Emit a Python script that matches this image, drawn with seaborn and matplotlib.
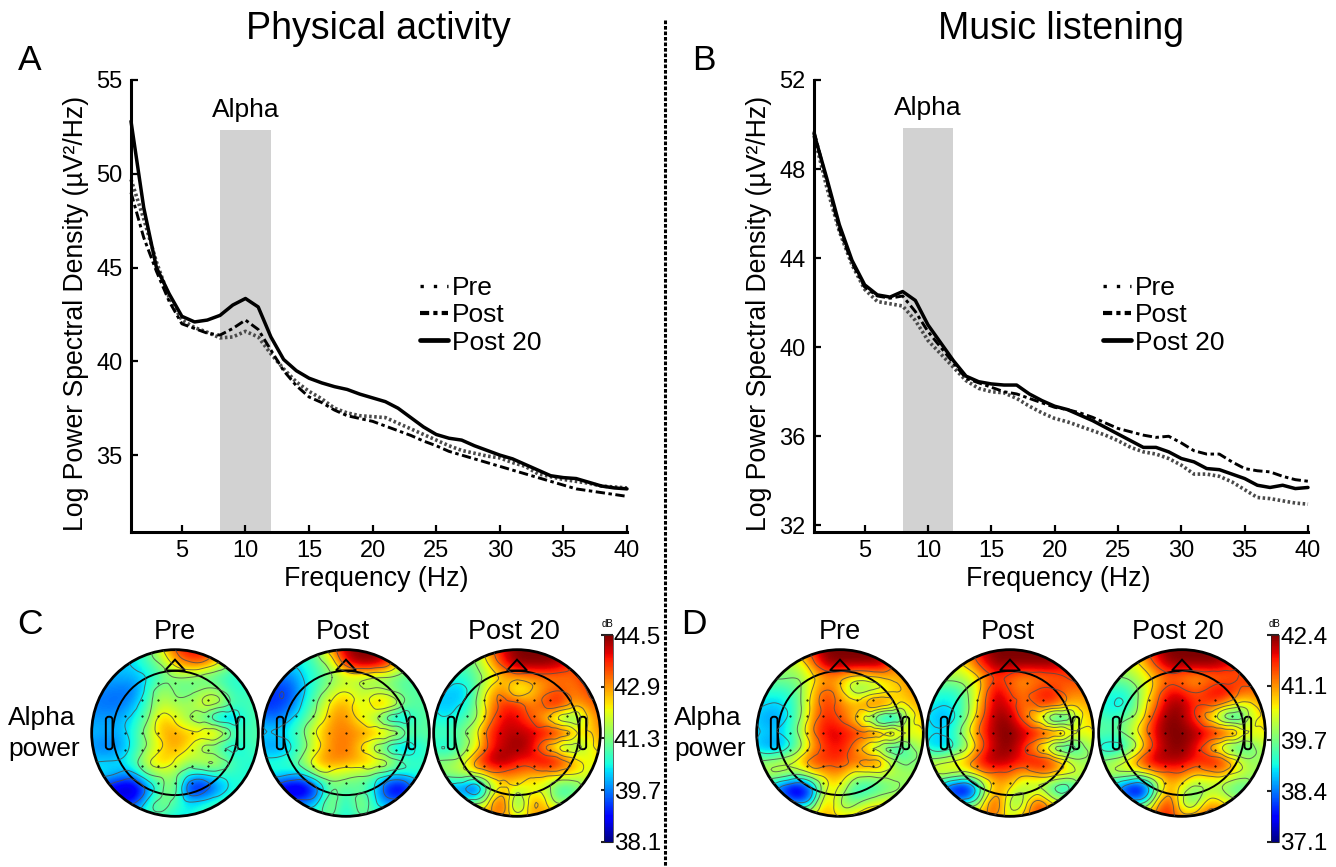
"""Spectra and alpha topographies before and after physical activity / music listening."""

import matplotlib.pyplot as plt
import matplotlib.tri as mtri
from matplotlib.lines import Line2D
from matplotlib.patches import Circle, Polygon, FancyBboxPatch
import numpy as np
import pandas as pd
import seaborn as sns

FREQS = list(range(1, 41))

A_PRE = [49.7, 47.6, 45.3, 43.4, 42.2, 41.8, 41.55, 41.25, 41.3, 41.6, 41.3, 40.4, 39.6, 38.9, 38.4, 38.0, 37.5, 37.25,
         37.1, 37.05, 37.0, 36.7, 36.4, 36.1, 35.8, 35.5, 35.25, 35.1, 34.95, 34.85, 34.6, 34.4, 34.0, 33.85, 33.7,
         33.6, 33.5, 33.35, 33.3, 33.25]
A_POST = [49.0, 46.6, 44.8, 43.2, 42.0, 41.75, 41.5, 41.4, 41.75, 42.2, 41.7, 40.6, 39.5, 38.7, 38.1, 37.8, 37.4, 37.1,
          36.95, 36.8, 36.55, 36.3, 36.05, 35.75, 35.5, 35.2, 35.0, 34.8, 34.6, 34.4, 34.2, 34.0, 33.8, 33.6, 33.4,
          33.2, 33.1, 33.0, 32.9, 32.8]
A_POST20 = [52.8, 48.2, 45.0, 43.6, 42.4, 42.1, 42.2, 42.45, 43.0, 43.35, 42.9, 41.3, 40.1, 39.5, 39.1, 38.85, 38.65,
            38.5, 38.25, 38.05, 37.85, 37.5, 37.0, 36.5, 36.1, 35.9, 35.8, 35.5, 35.25, 35.0, 34.8, 34.5, 34.2, 33.9,
            33.8, 33.75, 33.55, 33.35, 33.25, 33.2]

B_PRE = [49.5, 47.2, 45.2, 43.7, 42.6, 42.05, 41.95, 41.85, 41.2, 40.3, 39.7, 39.1, 38.5, 38.15, 38.0, 37.95, 37.7,
         37.35, 37.05, 36.8, 36.65, 36.45, 36.25, 36.05, 35.8, 35.5, 35.3, 35.2, 35.0, 34.7, 34.3, 34.3, 34.2, 33.95,
         33.6, 33.25, 33.2, 33.1, 33.0, 32.95]
B_POST = [49.7, 47.5, 45.3, 43.8, 42.7, 42.3, 42.2, 42.3, 41.6, 40.7, 40.0, 39.3, 38.6, 38.4, 38.2, 38.0, 37.9, 37.7,
          37.5, 37.3, 37.2, 37.05, 36.85, 36.6, 36.35, 36.2, 36.05, 35.95, 36.0, 35.7, 35.35, 35.2, 35.2, 34.85,
          34.55, 34.45, 34.4, 34.2, 34.05, 33.98]
B_POST20 = [49.6, 47.6, 45.5, 43.9, 42.8, 42.35, 42.25, 42.5, 42.1, 41.0, 40.2, 39.4, 38.7, 38.45, 38.35, 38.3, 38.3,
            37.9, 37.6, 37.35, 37.2, 36.95, 36.7, 36.4, 36.1, 35.8, 35.5, 35.5, 35.3, 35.0, 34.85, 34.55, 34.5, 34.3,
            34.1, 33.8, 33.7, 33.8, 33.65, 33.7]

A_YTICKS = [35, 40, 45, 50, 55]
B_YTICKS = [32, 36, 40, 44, 48, 52]
XTICKS = [5, 10, 15, 20, 25, 30, 35, 40]
CONDITIONS = ["Pre", "Post", "Post 20"]

C_TICKS = [38.1, 39.7, 41.3, 42.9, 44.5]
D_TICKS = [37.1, 38.4, 39.7, 41.1, 42.4]

# scalp values in dB on a 13 x 13 grid, top row is the front of the head
C_PRE = [
    [40.3, 40.3, 40.3, 40.5, 41.0, 42.2, 43.4, 44.0, 44.0, 43.2, 41.8, 41.0, 41.0],
    [40.2, 40.2, 40.2, 40.3, 40.8, 41.4, 42.6, 43.2, 43.2, 42.4, 41.3, 40.8, 40.8],
    [40.0, 40.0, 40.0, 40.0, 40.3, 40.9, 41.3, 41.3, 41.0, 40.7, 40.6, 40.6, 40.8],
    [39.7, 39.7, 39.6, 39.6, 40.6, 41.7, 41.2, 41.0, 41.6, 41.7, 40.8, 40.7, 40.9],
    [39.7, 39.6, 39.6, 40.0, 40.9, 41.9, 41.7, 41.6, 42.2, 42.0, 41.0, 40.8, 41.0],
    [39.9, 39.9, 40.0, 40.4, 41.2, 42.7, 42.2, 41.4, 41.0, 39.9, 39.8, 40.6, 41.0],
    [40.1, 40.0, 40.0, 40.6, 41.6, 42.7, 42.9, 42.6, 42.7, 42.9, 41.3, 40.8, 41.0],
    [39.8, 39.6, 39.8, 40.5, 41.4, 42.3, 42.9, 42.4, 41.3, 40.8, 40.2, 40.6, 41.0],
    [40.2, 40.2, 40.3, 40.9, 42.1, 42.7, 42.3, 41.6, 42.1, 42.0, 41.0, 40.6, 40.7],
    [40.5, 40.4, 40.0, 39.9, 41.1, 41.6, 41.5, 40.4, 40.2, 40.6, 40.7, 40.6, 40.6],
    [39.0, 38.8, 38.4, 38.2, 39.5, 41.0, 41.5, 38.8, 38.7, 39.6, 40.4, 40.6, 40.7],
    [39.5, 39.4, 39.0, 39.0, 40.5, 41.5, 41.0, 40.3, 40.5, 40.8, 40.9, 40.9, 40.9],
    [40.3, 40.3, 40.3, 40.5, 40.8, 40.9, 40.4, 40.4, 40.8, 41.0, 41.0, 41.0, 41.0],
]
C_POST = [
    [40.5, 40.5, 40.5, 40.8, 41.5, 43.0, 44.3, 44.5, 44.5, 44.0, 42.4, 41.3, 41.0],
    [40.3, 40.3, 40.3, 40.5, 41.0, 41.9, 43.8, 44.4, 44.4, 43.8, 42.0, 41.2, 41.0],
    [39.6, 39.6, 39.7, 40.3, 40.8, 41.3, 41.7, 41.7, 41.4, 41.3, 41.0, 41.0, 41.0],
    [39.2, 39.2, 39.3, 40.2, 41.0, 41.8, 42.3, 41.7, 41.8, 41.6, 41.0, 41.0, 41.0],
    [39.2, 39.2, 39.5, 40.5, 41.4, 42.6, 42.8, 42.0, 42.7, 42.9, 41.4, 41.0, 41.0],
    [39.8, 39.6, 40.2, 40.9, 41.8, 42.9, 43.0, 42.2, 41.5, 40.2, 39.8, 40.8, 41.1],
    [40.3, 40.3, 40.6, 41.3, 42.5, 43.0, 43.1, 43.0, 42.9, 42.8, 41.8, 41.0, 41.1],
    [39.9, 39.7, 40.2, 41.1, 42.2, 43.0, 43.2, 42.5, 41.4, 40.3, 39.7, 40.3, 40.9],
    [40.6, 40.6, 40.9, 41.7, 42.9, 43.1, 43.0, 42.8, 42.7, 42.1, 41.2, 40.7, 40.8],
    [40.6, 40.6, 40.2, 40.3, 41.6, 41.9, 41.6, 41.5, 41.2, 40.5, 40.3, 40.7, 40.6],
    [38.8, 38.6, 38.3, 38.2, 39.4, 41.2, 40.9, 41.0, 40.3, 38.7, 38.4, 39.5, 40.4],
    [39.5, 39.5, 39.5, 39.6, 40.3, 41.7, 40.4, 41.7, 40.6, 39.7, 39.8, 40.3, 40.5],
    [40.3, 40.3, 40.4, 40.6, 41.0, 41.1, 40.4, 41.0, 41.0, 40.8, 40.7, 40.6, 40.6],
]
C_POST20 = [
    [41.0, 41.0, 41.0, 41.6, 43.0, 44.0, 44.5, 44.5, 44.5, 44.5, 44.2, 43.5, 43.0],
    [41.0, 41.0, 41.0, 41.3, 42.5, 43.7, 44.5, 44.5, 44.5, 44.3, 43.5, 43.7, 43.5],
    [40.6, 40.6, 40.6, 41.0, 41.8, 42.6, 42.8, 42.9, 43.0, 43.0, 43.2, 43.7, 43.8],
    [40.2, 40.2, 40.0, 41.0, 42.6, 43.1, 41.8, 42.4, 43.0, 43.5, 43.0, 43.4, 43.6],
    [40.2, 40.1, 40.3, 41.2, 42.8, 43.7, 43.8, 43.0, 43.6, 43.9, 42.8, 43.0, 43.4],
    [40.6, 40.4, 40.8, 41.3, 43.0, 44.0, 43.9, 43.4, 42.5, 41.3, 40.7, 42.2, 43.2],
    [41.0, 40.9, 41.2, 42.0, 43.7, 44.1, 44.2, 44.1, 44.1, 44.0, 43.0, 42.3, 43.0],
    [40.6, 40.3, 41.0, 41.9, 43.6, 44.1, 44.5, 44.1, 42.6, 41.5, 41.0, 41.8, 42.6],
    [41.4, 41.4, 41.8, 43.4, 44.3, 44.5, 43.8, 43.8, 44.3, 44.0, 42.9, 42.2, 42.3],
    [41.4, 41.6, 41.8, 41.8, 42.8, 43.0, 43.1, 42.7, 42.7, 42.5, 42.3, 42.0, 42.0],
    [39.5, 39.5, 39.5, 38.7, 41.0, 42.5, 41.9, 42.0, 41.8, 40.6, 40.7, 41.5, 41.8],
    [41.0, 41.0, 41.0, 41.0, 42.5, 43.8, 40.6, 42.9, 42.6, 41.2, 41.6, 42.0, 42.2],
    [42.5, 42.5, 42.5, 42.8, 43.0, 43.0, 42.0, 42.7, 43.0, 43.0, 42.8, 42.6, 42.6],
]
D_PRE = [
    [40.0, 40.0, 40.0, 40.8, 41.8, 42.4, 42.4, 42.4, 42.4, 42.3, 41.6, 40.7, 40.2],
    [40.0, 40.0, 40.0, 40.3, 41.2, 42.3, 42.4, 42.4, 42.4, 42.3, 41.3, 40.8, 41.0],
    [39.8, 39.8, 39.8, 39.8, 40.5, 41.0, 40.9, 40.4, 40.4, 40.7, 40.9, 41.2, 41.4],
    [39.2, 39.2, 39.2, 39.6, 40.7, 41.6, 40.9, 39.7, 39.8, 40.3, 40.6, 41.0, 41.3],
    [39.0, 38.8, 38.9, 39.5, 40.9, 41.7, 41.3, 41.0, 41.6, 41.7, 40.7, 40.7, 41.0],
    [38.8, 38.5, 38.8, 39.6, 41.1, 41.8, 41.5, 40.8, 39.6, 38.2, 38.4, 40.2, 40.8],
    [39.0, 38.8, 39.0, 39.8, 41.3, 42.0, 42.0, 41.8, 41.7, 41.5, 41.3, 40.5, 40.6],
    [38.8, 38.4, 38.7, 39.5, 40.9, 41.7, 41.9, 41.2, 40.2, 39.4, 38.9, 39.5, 40.2],
    [39.8, 39.9, 40.2, 40.8, 41.7, 41.7, 41.7, 41.4, 41.6, 41.2, 39.8, 39.6, 39.9],
    [39.9, 40.3, 40.1, 39.7, 40.4, 40.9, 41.1, 40.3, 40.1, 40.2, 40.1, 40.0, 40.0],
    [39.0, 38.6, 37.6, 37.1, 38.1, 40.5, 40.4, 39.2, 39.0, 39.4, 39.7, 39.9, 40.0],
    [40.0, 40.0, 38.8, 38.0, 38.9, 41.0, 39.9, 39.5, 40.1, 40.4, 40.4, 40.2, 40.2],
    [40.6, 40.6, 40.6, 40.8, 40.9, 41.0, 40.6, 40.8, 41.3, 41.3, 41.0, 40.6, 40.5],
]
D_POST = [
    [40.5, 40.5, 40.5, 41.2, 42.1, 42.4, 42.4, 42.4, 42.4, 42.4, 42.1, 41.3, 40.9],
    [40.5, 40.5, 40.5, 40.9, 41.8, 42.4, 42.4, 42.4, 42.4, 42.4, 42.0, 41.4, 41.2],
    [40.0, 40.0, 40.0, 40.2, 40.9, 41.6, 41.3, 41.0, 41.1, 41.2, 41.5, 41.7, 41.7],
    [39.4, 39.2, 39.2, 39.8, 40.9, 42.2, 41.5, 41.2, 41.7, 41.9, 41.3, 41.2, 41.3],
    [39.1, 38.9, 39.0, 39.7, 41.2, 42.2, 41.9, 41.2, 41.6, 41.7, 41.0, 40.8, 41.0],
    [39.0, 38.6, 38.9, 40.0, 41.5, 42.3, 42.3, 41.3, 40.3, 38.7, 38.7, 40.4, 40.8],
    [39.1, 38.9, 39.3, 40.4, 41.7, 42.3, 42.4, 42.2, 42.0, 41.8, 41.4, 40.5, 40.6],
    [39.0, 38.6, 39.0, 39.9, 41.4, 42.2, 42.4, 41.7, 40.6, 39.4, 38.7, 39.3, 40.2],
    [40.1, 40.2, 40.6, 41.2, 42.1, 42.3, 42.1, 41.8, 42.1, 41.8, 40.7, 39.9, 40.0],
    [40.3, 40.5, 40.2, 40.1, 41.0, 41.3, 41.3, 40.8, 41.1, 41.0, 40.5, 40.3, 40.1],
    [38.8, 38.3, 37.4, 37.3, 39.3, 41.0, 40.6, 39.9, 39.9, 39.1, 38.7, 39.5, 39.9],
    [39.9, 39.9, 38.8, 38.8, 40.3, 41.8, 39.8, 40.0, 41.8, 40.6, 40.2, 40.0, 40.0],
    [40.9, 40.9, 41.0, 41.1, 41.2, 41.3, 40.2, 41.0, 41.6, 41.5, 41.0, 40.7, 40.6],
]
D_POST20 = [
    [40.3, 40.3, 40.3, 41.0, 42.0, 42.4, 42.4, 42.4, 42.4, 42.3, 41.8, 41.2, 40.9],
    [40.3, 40.3, 40.3, 40.7, 41.5, 42.3, 42.4, 42.4, 42.4, 42.2, 41.6, 41.4, 41.3],
    [39.9, 39.8, 39.8, 40.2, 40.8, 41.3, 41.1, 40.9, 41.1, 41.2, 41.5, 41.7, 41.8],
    [39.4, 39.1, 39.2, 39.9, 40.9, 41.9, 41.8, 41.4, 41.9, 42.2, 41.6, 41.3, 41.4],
    [39.2, 38.9, 39.0, 40.0, 41.3, 42.2, 42.3, 41.6, 41.6, 41.0, 40.2, 40.5, 41.0],
    [39.5, 39.3, 39.7, 40.4, 41.8, 42.4, 42.3, 41.6, 40.5, 39.2, 38.8, 40.2, 40.8],
    [39.6, 39.5, 39.9, 40.8, 42.0, 42.4, 42.4, 42.3, 42.1, 42.0, 41.4, 40.5, 40.6],
    [39.0, 38.7, 39.1, 40.3, 41.7, 42.3, 42.4, 41.9, 40.8, 39.6, 39.0, 39.5, 40.2],
    [39.8, 40.0, 40.6, 41.7, 42.3, 42.2, 42.2, 41.8, 42.1, 41.8, 40.6, 39.9, 40.0],
    [40.0, 40.2, 40.1, 40.0, 40.8, 41.3, 41.3, 40.7, 40.9, 40.9, 40.3, 40.0, 40.0],
    [39.0, 38.6, 37.6, 37.2, 39.0, 41.0, 40.3, 39.6, 39.9, 39.7, 39.3, 39.6, 39.9],
    [39.9, 40.0, 38.9, 38.6, 40.4, 41.9, 40.0, 39.6, 41.0, 40.6, 40.1, 40.0, 40.0],
    [40.9, 40.9, 41.0, 41.2, 41.5, 41.9, 41.0, 41.3, 41.7, 41.5, 41.0, 40.7, 40.5],
]

W, H = 1336, 867
STYLES = {"Pre": ((0, (0.7, 0.7)), 2.6, "#4a4a4a"), "Post": ((0, (3.2, 1.2, 1.2, 1.2)), 2.1, "black"), "Post 20": ("-", 2.5, "black")}
LEGEND_STYLES = {"Pre": ((0, (1, 3)), 2.4), "Post": ((0, (2.2, 1, 1, 1)), 3), "Post 20": ("-", 3.4)}

sns.set_style("white")
plt.rcParams["font.family"] = ["Liberation Sans", "DejaVu Sans"]
plt.rcParams.update({"text.color": "black", "axes.labelcolor": "black", "xtick.color": "black", "ytick.color": "black"})


def px_axes(fig, left, top, right, bottom):
    return fig.add_axes([left / W, 1 - bottom / H, (right - left) / W, (bottom - top) / H])


def px_text(fig, x, y, s, size, ha="center"):
    fig.text(x / W, 1 - y / H, s, fontsize=size, ha=ha, va="center", color="black")


def plot_spectrum(ax, series, yticks, ylim, band_top, legend_anchor):
    ax.axvspan(8, 12, ymin=0, ymax=(band_top - ylim[0]) / (ylim[1] - ylim[0]), color="#d2d2d2", lw=0, zorder=0)
    for name, values in zip(CONDITIONS, series):
        ls, lw, color = STYLES[name]
        df = pd.DataFrame({"freq": FREQS, "power": values})
        sns.lineplot(data=df, x="freq", y="power", ax=ax, color=color, linewidth=lw, linestyle=ls,
                     errorbar=None, clip_on=False, legend=False)
    ax.set_xlim(1, 40)
    ax.set_ylim(*ylim)
    ax.set_xticks(XTICKS)
    ax.set_yticks(yticks)
    ax.set_xlabel("Frequency (Hz)", fontsize=19.3)
    ax.set_ylabel("Log Power Spectral Density (µV²/Hz)", fontsize=19.2)
    ax.xaxis.set_label_coords(0.494, -0.075)
    ax.yaxis.set_label_coords(-0.085, 0.4845)
    ax.tick_params(axis="both", direction="in", length=5, width=1.6, labelsize=17, left=True, bottom=True, pad=6)
    sns.despine(ax=ax)
    for side in ("left", "bottom"):
        ax.spines[side].set_linewidth(2.2)
        ax.spines[side].set_color("black")
    ax.text(10, band_top + (ylim[1] - ylim[0]) * 0.044, "Alpha", fontsize=19, ha="center", va="center")
    handles = [Line2D([], [], color="black", linestyle=LEGEND_STYLES[n][0], linewidth=LEGEND_STYLES[n][1], label=n)
               for n in CONDITIONS]
    ax.legend(handles=handles, loc="upper left", bbox_to_anchor=legend_anchor, frameon=False, fontsize=19,
              handlelength=1.05, handletextpad=0.17, labelspacing=0.12, borderpad=0, borderaxespad=0)


def plot_topomap(ax, grid, vmin, vmax):
    values = np.array(grid)
    half = 1 + 1 / 12
    im = ax.imshow(values, extent=(-half, half, -half, half), origin="upper", cmap="jet", vmin=vmin, vmax=vmax,
                   interpolation="bicubic", aspect="equal")
    outline = Circle((0, 0), 1, transform=ax.transData)
    im.set_clip_path(outline)

    xs, ys = np.meshgrid(np.linspace(-1, 1, values.shape[1]), np.linspace(1, -1, values.shape[0]))
    tri = mtri.Triangulation(xs.ravel(), ys.ravel())
    fine_tri, fine_z = mtri.UniformTriRefiner(tri).refine_field(values.ravel(), subdiv=3)
    levels = np.linspace(vmin, vmax, 7)[1:-1]
    lines = ax.tricontour(fine_tri, fine_z, levels=levels, colors="#4d4d4d", linewidths=0.7, alpha=0.8)
    lines.set_clip_path(outline)

    # electrode marks
    for ex in np.arange(-0.6, 0.61, 0.2):
        for ey in np.arange(-0.6, 0.61, 0.2):
            if ex * ex + ey * ey < 0.45:
                ax.plot(ex, ey, ".", color="black", ms=1)

    ax.add_patch(Circle((0, 0), 1, fill=False, ec="black", lw=2))
    ax.add_patch(Circle((0, 0), 0.745, fill=False, ec="black", lw=1.4))
    ax.add_patch(Polygon([(-0.12, 0.75), (0, 0.88), (0.12, 0.75)], fill=False, ec="black", lw=1.4))
    for ex in (-0.79, 0.79):
        ax.add_patch(FancyBboxPatch((ex - 0.005, -0.16), 0.01, 0.32, boxstyle="round,pad=0.035", fill=False,
                                    ec="black", lw=1.4))
    ax.set_xlim(-1.08, 1.08)
    ax.set_ylim(-1.08, 1.08)
    ax.axis("off")
    return im


def plot_colorbar(fig, im, cax, ticks):
    cbar = fig.colorbar(im, cax=cax, ticks=ticks)
    cbar.ax.set_yticklabels([f"{t:.1f}" for t in ticks], fontsize=17.5)
    cbar.ax.tick_params(direction="in", length=8.5, width=1.5, color="#222222", pad=1)
    cbar.outline.set_linewidth(0.5)


def main():
    fig = plt.figure(figsize=(W / 100, H / 100), dpi=100, facecolor="white")

    ax_a = px_axes(fig, 131, 80, 627, 532)
    plot_spectrum(ax_a, [A_PRE, A_POST, A_POST20], A_YTICKS, (30.9, 55), 52.33, (0.583, 0.566))
    ax_b = px_axes(fig, 814, 80, 1308, 532)
    plot_spectrum(ax_b, [B_PRE, B_POST, B_POST20], B_YTICKS, (31.7, 52), 49.84, (0.585, 0.566))

    fig.add_artist(Line2D([665 / W, 665 / W], [1 - 20 / H, 0], color="black", lw=2.2, linestyle=(0, (1.2, 0.6))))

    px_text(fig, 378, 29, "Physical activity", 27)
    px_text(fig, 1061, 29, "Music listening", 27)
    for x, y, s in [(30, 60, "A"), (704, 60, "B"), (30, 624, "C"), (694, 624, "D")]:
        px_text(fig, x, y, s, 25.5)

    for centers, titles_x, maps, vmin, vmax, ticks, cb_left in [
        ([175, 346, 517], [175, 343, 514], [C_PRE, C_POST, C_POST20], 38.1, 44.5, C_TICKS, 604),
        ([840, 1010, 1182], [840, 1008, 1178], [D_PRE, D_POST, D_POST20], 37.1, 42.4, D_TICKS, 1270.5),
    ]:
        for cx, tx, name, grid in zip(centers, titles_x, CONDITIONS, maps):
            ax = px_axes(fig, cx - 90, 733 - 90, cx + 90, 733 + 90)
            im = plot_topomap(ax, grid, vmin, vmax)
            px_text(fig, tx, 632, name, 19.5)
        cax = px_axes(fig, cb_left, 635, cb_left + 8.5, 842)
        plot_colorbar(fig, im, cax, ticks)
        px_text(fig, cb_left + 4, 624, "dB", 7)

    for x in (8, 674):
        px_text(fig, x, 718, "Alpha", 19, ha="left")
        px_text(fig, x, 749, "power", 19, ha="left")

    fig.savefig("out.png", dpi=100)


if __name__ == "__main__":
    main()
